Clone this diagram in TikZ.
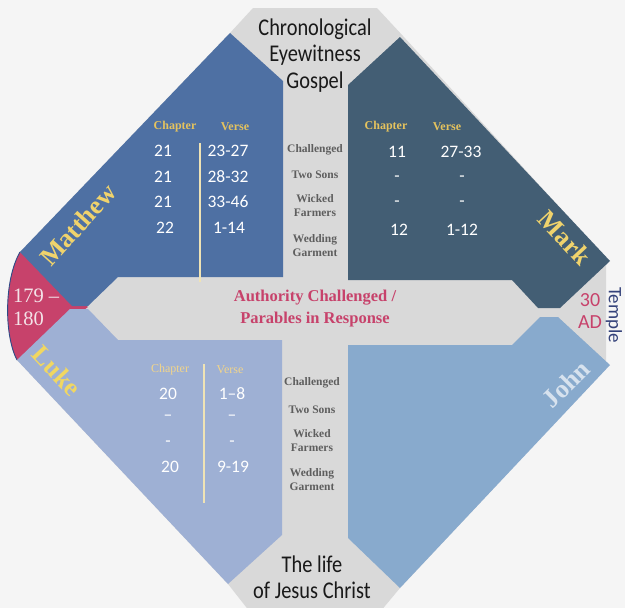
\documentclass[tikz,border=0pt]{standalone}
\usepackage{fontspec}
\setmainfont{Liberation Serif}
\newfontfamily\numfont{Carlito}
\newfontfamily\condfont[FakeStretch=0.85]{Carlito}
\definecolor{bgc}{HTML}{F5F5F5}
\definecolor{greyc}{HTML}{D9D9D9}
\definecolor{matc}{HTML}{4E70A3}
\definecolor{marc}{HTML}{435E74}
\definecolor{lukc}{HTML}{9EB0D4}
\definecolor{johc}{HTML}{88AACD}
\definecolor{redc}{HTML}{C7426B}
\definecolor{navyc}{HTML}{2E4A86}
\definecolor{goldc}{HTML}{F0D36C}
\definecolor{hdrc}{HTML}{E5C35E}
\definecolor{lukhdr}{HTML}{F2D58A}
\definecolor{labc}{HTML}{5E5E5E}
\definecolor{johtext}{HTML}{D7E2EE}
\definecolor{templec}{HTML}{34427A}
\definecolor{pinkw}{HTML}{F3E3E8}
\definecolor{sepc}{HTML}{EFE3B5}
\begin{document}
\begin{tikzpicture}[x=1pt,y=-1pt,
  every node/.style={inner sep=0pt, outer sep=0pt},
  bigtxt/.style={font=\condfont\fontsize{24}{26}\selectfont, text=black!90, anchor=base},
  gname/.style={font=\bfseries\fontsize{26}{28}\selectfont, text=goldc},
  hdr/.style={font=\bfseries\fontsize{12}{14}\selectfont, text=hdrc},
  lhdr/.style={font=\fontsize{12}{14}\selectfont, text=lukhdr},
  num/.style={font=\numfont\fontsize{17.5}{20}\selectfont, text=white},
  rowlab/.style={font=\bfseries\fontsize{11.5}{14}\selectfont, text=labc, align=center},
  bandtxt/.style={font=\bfseries\fontsize{16.5}{20}\selectfont, text=redc},
  sepline/.style={draw=sepc, line width=1.3pt}
]
\useasboundingbox (0,0) rectangle (625,608);
\fill[bgc] (0,0) rectangle (625,608);
\begin{scope}
\clip (0,0) rectangle (625,608);
% grey octagon
\fill[greyc] (253,8) -- (377,8) -- (403,36) -- (606,258) -- (606,368) -- (400,588)
  -- (380,612) -- (250,612) -- (228,584) -- (17,360) -- (20,252) -- (230,33) -- cycle;
% red segment
\fill[redc] (20,252) -- (88,307) -- (17,360) .. controls (4,335) and (4,280) .. (20,252) -- cycle;
\draw[navyc, line width=0.9pt] (17,360) .. controls (4,335) and (4,280) .. (20,252);
% Matthew
\fill[matc] (230,33) -- (283,81) -- (283,277) -- (118,277) -- (88,306) -- (72,306) -- (20,252) -- cycle;
% Luke
\fill[lukc] (17,360) -- (70,309) -- (88,309) -- (118,340) -- (282,340) -- (282,535) -- (228,584) -- cycle;
% Mark
\fill[marc] (348,85) -- (400,37) -- (610,261) -- (560,308) -- (538,308) -- (512,280) -- (348,280) -- cycle;
% John
\fill[johc] (540,317) -- (558,317) -- (610,365) -- (400,588) -- (348,538) -- (348,345) -- (512,345) -- cycle;
\end{scope}

% separators
\coordinate (mt) at (200,143); \coordinate (mb) at (200,282);
\coordinate (lt) at (204,364); \coordinate (lb) at (204,503);
\draw[sepline] (mt) -- (mb);
\draw[sepline] (lt) -- (lb);

% top and bottom text
\node[bigtxt] (t1) at (315,35) {Chronological};
\node[bigtxt] (t2) at (315,61.5) {Eyewitness};
\node[bigtxt] (t3) at (315,88) {Gospel};
\node[bigtxt] (b1) at (312,572) {The life};
\node[bigtxt] (b2) at (312,598) {of Jesus Christ};

% gospel names
\node[gname, rotate=48] (matthew) at (78,225) {Matthew};
\node[gname, rotate=-47] (mark) at (565,238) {Mark};
\node[gname, rotate=-47, text=goldc!90!yellow] (luke) at (57,371) {Luke};
\node[gname, rotate=45, text=johtext] (john) at (566,384) {John};

% center band
\node[bandtxt] (band1) at (315,298) {Authority Challenged /};
\node[bandtxt] (band2) at (315,320) {Parables in Response};

% dates and temple
\node[font=\fontsize{20.5}{22}\selectfont, text=pinkw, anchor=west] (d1) at (13,296) {179 –};
\node[font=\fontsize{20.5}{22}\selectfont, text=pinkw, anchor=west] (d2) at (13,319) {180};
\node[font=\numfont\fontsize{20}{22}\selectfont, text=redc] (ad1) at (590,300) {30};
\node[font=\numfont\fontsize{20}{22}\selectfont, text=redc] (ad2) at (590,322) {AD};
\node[font=\numfont\fontsize{19}{21}\selectfont, text=templec, rotate=-90] (temple) at (614,315) {Temple};

% row labels upper
\node[rowlab] (u1) at (315,150) {Challenged};
\node[rowlab] (u2) at (315,175) {Two Sons};
\node[rowlab] (u3) at (315,206) {Wicked\\Farmers};
\node[rowlab] (u4) at (315,246) {Wedding\\Garment};
% row labels lower
\node[rowlab] (l1) at (312,383) {Challenged};
\node[rowlab] (l2) at (312,410) {Two Sons};
\node[rowlab] (l3) at (312,440.5) {Wicked\\Farmers};
\node[rowlab] (l4) at (312,480) {Wedding\\Garment};

% Matthew table
\node[hdr] (mch) at (175,127) {Chapter};
\node[hdr] (mvh) at (235,127) {Verse};
\node[num] (m11) at (163,151) {21};
\node[num] (m12) at (228,151) {23-27};
\node[num] (m21) at (163,177) {21};
\node[num] (m22) at (228,177) {28-32};
\node[num] (m31) at (163,202) {21};
\node[num] (m32) at (228,202) {33-46};
\node[num] (m41) at (165,228) {22};
\node[num] (m42) at (229,228) {1-14};

% Mark table
\node[hdr] (kch) at (386,127) {Chapter};
\node[hdr] (kvh) at (447,127) {Verse};
\node[num] (k11) at (397,152) {11};
\node[num] (k12) at (461,152) {27-33};
\node[num] (k21) at (397,179) {-};
\node[num] (k22) at (462,179) {-};
\node[num] (k31) at (397,204) {-};
\node[num] (k32) at (462,204) {-};
\node[num] (k41) at (399,230) {12};
\node[num] (k42) at (462,230) {1-12};

% Luke table
\node[lhdr] (lch) at (170,370) {Chapter};
\node[lhdr] (lvh) at (230,370) {Verse};
\node[num] (c11) at (168,394) {20};
\node[num] (c12) at (232,394) {1–8};
\node[num] (c21) at (168,418) {–};
\node[num] (c22) at (232,418) {–};
\node[num] (c31) at (168,444) {-};
\node[num] (c32) at (232,444) {-};
\node[num] (c41) at (170,467) {20};
\node[num] (c42) at (233,467) {9-19};
\end{tikzpicture}
\end{document}
